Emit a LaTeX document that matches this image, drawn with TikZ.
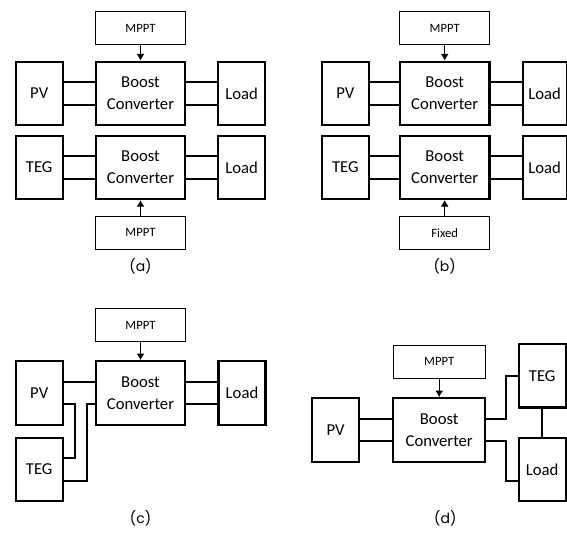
\documentclass[tikz,border=0pt]{standalone}
\usepackage{fontspec}
\setmainfont{Carlito}
\newfontfamily\capfont{Poppins}
\usetikzlibrary{arrows.meta}

\tikzset{
  blk/.style={draw,line width=1.6pt,minimum width=35.25pt,minimum height=47.5pt,
    inner sep=0pt,font=\fontsize{12.5}{16.3}\selectfont},
  conv/.style={blk,minimum width=67.2pt,align=center},
  ctrl/.style={draw,line width=0.8pt,minimum width=67.2pt,minimum height=24.5pt,
    inner sep=0pt,font=\fontsize{9.5}{10}\selectfont},
  wire/.style={line width=1.6pt},
  sig/.style={line width=0.8pt,-{Latex[length=5pt,width=6pt]}},
  sublabel/.style={font=\capfont\fontsize{10.5}{12}\selectfont}
}

\begin{document}
\begin{tikzpicture}[x=0.75pt,y=-0.75pt]
    \useasboundingbox (0,0) rectangle (567,532);
    % (a)
    \node[ctrl] (mpptA1) at (140.5,28) {MPPT};
    \node[conv] (boostA1) at (140.5,93.3) {Boost\\Converter};
    \node[blk] (pvA) at (39.2,93.3) {PV};
    \node[blk] (loadA1) at (241.7,93.3) {Load};
    \node[conv] (boostA2) at (140.5,167.3) {Boost\\Converter};
    \node[blk] (tegA) at (39.2,167.3) {TEG};
    \node[blk] (loadA2) at (241.7,167.3) {Load};
    \node[ctrl] (mpptA2) at (140.5,232.7) {MPPT};
    \node[sublabel] (capA) at (140.5,266.7) {(a)};
    \draw[sig] (mpptA1) -- (boostA1);
    \draw[sig] (mpptA2) -- (boostA2);
    \foreach \s in {8.5pt,-8.5pt} {
      \draw[wire] ([yshift=\s]pvA.east) -- ([yshift=\s]boostA1.west);
      \draw[wire] ([yshift=\s]boostA1.east) -- ([yshift=\s]loadA1.west);
      \draw[wire] ([yshift=\s]tegA.east) -- ([yshift=\s]boostA2.west);
      \draw[wire] ([yshift=\s]boostA2.east) -- ([yshift=\s]loadA2.west);
    }
    % (b)
    \node[ctrl] (mpptB) at (444.7,28) {MPPT};
    \node[conv] (boostB1) at (444.7,93.3) {Boost\\Converter};
    \node[blk] (pvB) at (345.3,93.3) {PV};
    \node[blk,minimum width=33pt] (loadB1) at (544.6,93.3) {Load};
    \node[conv] (boostB2) at (444.7,167.3) {Boost\\Converter};
    \node[blk] (tegB) at (345.3,167.3) {TEG};
    \node[blk,minimum width=33pt] (loadB2) at (544.6,167.3) {Load};
    \node[ctrl] (fixedB) at (444.7,232.7) {Fixed};
    \node[sublabel] (capB) at (444.7,266.7) {(b)};
    \draw[sig] (mpptB) -- (boostB1);
    \draw[sig] (fixedB) -- (boostB2);
    \foreach \s in {8.5pt,-8.5pt} {
      \draw[wire] ([yshift=\s]pvB.east) -- ([yshift=\s]boostB1.west);
      \draw[wire] ([yshift=\s]boostB1.east) -- ([yshift=\s]loadB1.west);
      \draw[wire] ([yshift=\s]tegB.east) -- ([yshift=\s]boostB2.west);
      \draw[wire] ([yshift=\s]boostB2.east) -- ([yshift=\s]loadB2.west);
    }
    % (c)
    \node[ctrl] (mpptC) at (140.5,325) {MPPT};
    \node[conv] (boostC) at (140.5,392.9) {Boost\\Converter};
    \node[blk] (pvC) at (39.2,392.9) {PV};
    \node[blk] (tegC) at (39.2,469.5) {TEG};
    \node[blk] (loadC) at (242,392.9) {Load};
    \node[sublabel] (capC) at (140.5,518.3) {(c)};
    \draw[sig] (mpptC) -- (boostC);
    \draw[wire] ([yshift=8.5pt]pvC.east) -- ([yshift=8.5pt]boostC.west);
    \draw[wire] ([yshift=-8.5pt]pvC.east) -- ++(11.3,0) |- ([yshift=8.5pt]tegC.east);
    \draw[wire] ([yshift=-8.5pt]boostC.west) -- ++(-7.4,0) |- ([yshift=-8.5pt]tegC.east);
    \foreach \s in {8.5pt,-8.5pt}
      \draw[wire] ([yshift=\s]boostC.east) -- ([yshift=\s]loadC.west);
    % (d)
    \node[ctrl,minimum width=68.8pt] (mpptD) at (439.2,361.7) {MPPT};
    \node[conv,minimum width=68.8pt] (boostD) at (439.2,430) {Boost\\Converter};
    \node[blk] (pvD) at (335.5,430) {PV};
    \node[blk] (tegD) at (542.2,375.8) {TEG};
    \node[blk] (loadD) at (542.2,469.5) {Load};
    \node[sublabel] (capD) at (445.3,518.3) {(d)};
    \draw[sig] (mpptD) -- (boostD);
    \foreach \s in {8.5pt,-8.5pt}
      \draw[wire] ([yshift=\s]pvD.east) -- ([yshift=\s]boostD.west);
    \draw[wire] ([yshift=8.5pt]boostD.east) -- ++(20,0) |- (tegD.west);
    \draw[wire] ([yshift=-8.5pt]boostD.east) -- ++(20,0) |- ([yshift=-8.5pt]loadD.west);
    \draw[wire] (tegD) -- (loadD);
\end{tikzpicture}
\end{document}
